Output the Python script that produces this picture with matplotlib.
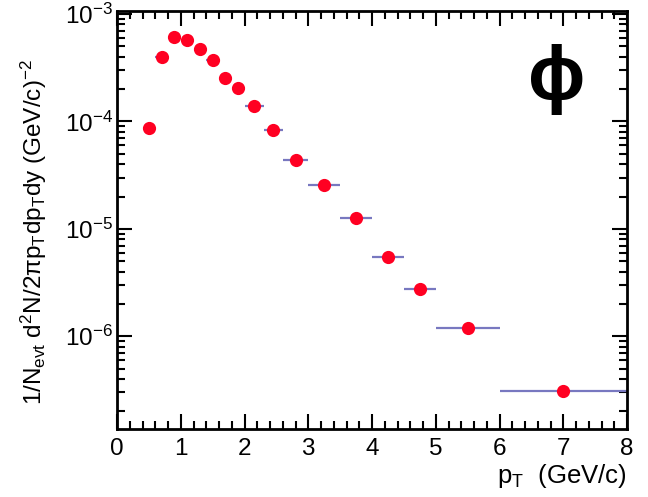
import numpy as np
import matplotlib
matplotlib.use("Agg")
import matplotlib.pyplot as plt
from matplotlib.ticker import LogLocator, MultipleLocator, NullFormatter

plt.rcParams['font.family'] = ['Liberation Sans', 'DejaVu Sans']
plt.rcParams['mathtext.fontset'] = 'custom'
plt.rcParams['mathtext.rm'] = 'Liberation Sans'
plt.rcParams['mathtext.it'] = 'Liberation Sans:italic'
plt.rcParams['mathtext.bf'] = 'Liberation Sans:bold'

# phi meson pT spectrum: bin edges and invariant yield
bin_lo = [0.4, 0.6, 0.8, 1.0, 1.2, 1.4, 1.6, 1.8, 2.0, 2.3, 2.6, 3.0, 3.5, 4.0, 4.5, 5.0, 6.0]
bin_hi = [0.6, 0.8, 1.0, 1.2, 1.4, 1.6, 1.8, 2.0, 2.3, 2.6, 3.0, 3.5, 4.0, 4.5, 5.0, 6.0, 8.0]
yield_ = [8.7e-5, 3.98e-4, 6.07e-4, 5.77e-4, 4.76e-4, 3.70e-4, 2.54e-4, 2.05e-4,
          1.38e-4, 8.4e-5, 4.42e-5, 2.55e-5, 1.26e-5, 5.52e-6, 2.76e-6, 1.20e-6, 3.09e-7]

lo = np.array(bin_lo)
hi = np.array(bin_hi)
pt = 0.5 * (lo + hi)
xerr = 0.5 * (hi - lo)

FS = 17.5

fig = plt.figure(figsize=(6.48, 4.97), dpi=100)
ax = fig.add_axes([0.1806, 0.1362, 0.7870, 0.8418])

ax.errorbar(pt, yield_, xerr=xerr, fmt='none', ecolor='#7878c0', elinewidth=1.6, capsize=0, zorder=2)
ax.plot(pt, yield_, 'o', color='#ff0022', markersize=9.5, markeredgewidth=0, zorder=3)

ax.set_yscale('log')
ax.set_xlim(0, 8)
ax.set_ylim(1.36e-7, 1.07e-3)

ax.xaxis.set_major_locator(MultipleLocator(1))
ax.xaxis.set_minor_locator(MultipleLocator(0.2))
ax.yaxis.set_major_locator(LogLocator(base=10, numticks=20))
ax.yaxis.set_minor_locator(LogLocator(base=10, subs=np.arange(2, 10), numticks=20))
ax.yaxis.set_minor_formatter(NullFormatter())

ax.tick_params(which='both', direction='in', top=True, right=True, width=1.5, labelsize=FS)
ax.tick_params(which='major', length=11)
ax.tick_params(which='minor', length=5.5)
ax.tick_params(axis='x', pad=6)
ax.tick_params(axis='y', pad=3)
for s in ax.spines.values():
    s.set_linewidth(2)

ax.set_xlabel(r'$\mathregular{p_{T}}$  (GeV/c)', fontsize=18.5, loc='right', labelpad=2)
fig.text(0.052, 0.534,
         r'1/N$\mathregular{_{evt}}$ d$\mathregular{^{2}}$N/2$\mathregular{\pi}$p$\mathregular{_{T}}$dp$\mathregular{_{T}}$dy (GeV/c)$\mathregular{^{-2}}$',
         rotation=90, fontsize=FS, ha='center', va='center')

ax.text(0.862, 0.835, '\u03d5', transform=ax.transAxes, fontsize=55, fontweight='bold',
        ha='center', va='center')

fig.savefig('out.png', dpi=100)
